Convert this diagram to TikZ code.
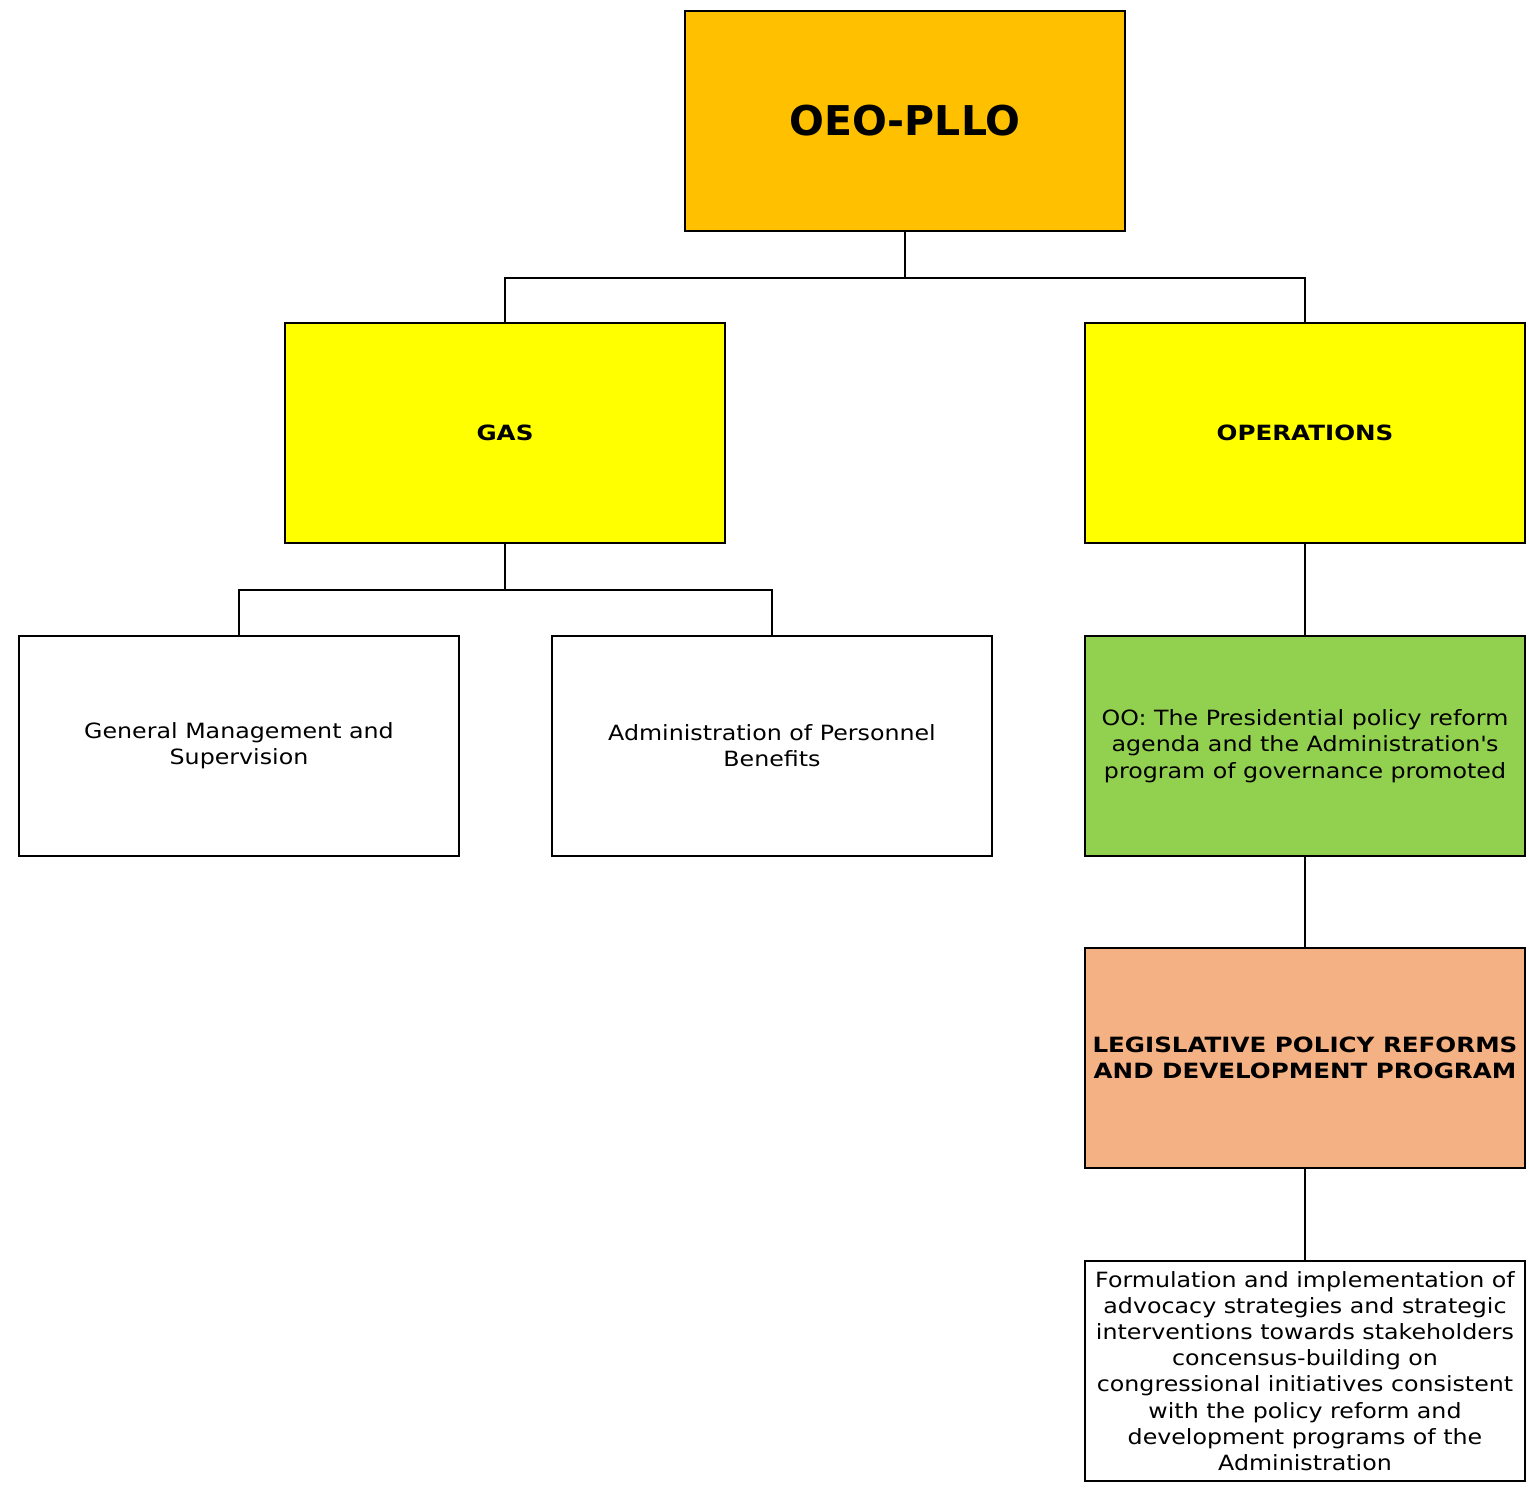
\documentclass[tikz,border=0pt]{standalone}
\usepackage{fontspec}
\setmainfont{DejaVu Sans}[FakeStretch=1.13,BoldFeatures={FakeStretch=1.17}]
\newfontfamily\rootfont{DejaVu Sans}
\usepackage{xcolor}
\usetikzlibrary{positioning}
\definecolor{rootgold}{HTML}{FFC000}
\definecolor{unityellow}{HTML}{FFFF00}
\definecolor{oogreen}{HTML}{92D050}
\definecolor{progpeach}{HTML}{F4B183}
\tikzset{
  box/.style={draw,line width=2pt,minimum width=440pt,minimum height=220pt,
    align=center,inner sep=2pt,font=\fontsize{21}{26.2}\selectfont},
  boldbox/.style={box,font=\fontsize{21}{26.2}\selectfont\bfseries},
  link/.style={line width=2pt}
}

\begin{document}
\begin{tikzpicture}[x=1pt,y=-1pt]
  \useasboundingbox (0,0) rectangle (1529,1488);

  % top level
  \node[boldbox,fill=rootgold,font=\rootfont\fontsize{41}{48}\selectfont\bfseries] (root) at (905,121) {OEO-PLLO};

  % second level
  \node[boldbox,fill=unityellow] (gas) at (505,433) {GAS};
  \node[boldbox,fill=unityellow] (ops) at (1305,433) {OPERATIONS};

  % GAS units
  \node[box] (gms) at (239,746) {General Management and\\Supervision};
  \node[box] (apb) at (772,746) {Administration of Personnel\\Benefits};

  % operations chain
  \node[box,fill=oogreen] (oo) at (1305,746)
    {OO: The Presidential policy reform\\agenda and the Administration\textquotesingle s\\program of governance promoted};
  \node[boldbox,fill=progpeach] (lpr) at (1305,1058)
    {LEGISLATIVE POLICY REFORMS\\AND DEVELOPMENT PROGRAM};
  \node[box] (frm) at (1305,1371)
    {Formulation and implementation of\\advocacy strategies and strategic\\interventions towards stakeholders\\concensus-building on\\congressional initiatives consistent\\with the policy reform and\\development programs of the\\Administration};

  % connectors
  \draw[link] (root.south) -- ++(0,46) -| (gas.north);
  \draw[link] (root.south) -- ++(0,46) -| (ops.north);
  \draw[link] (gas.south) -- ++(0,46) -| (gms.north);
  \draw[link] (gas.south) -- ++(0,46) -| (apb.north);
  \draw[link] (ops) -- (oo);
  \draw[link] (oo) -- (lpr);
  \draw[link] (lpr) -- (frm);
\end{tikzpicture}
\end{document}
